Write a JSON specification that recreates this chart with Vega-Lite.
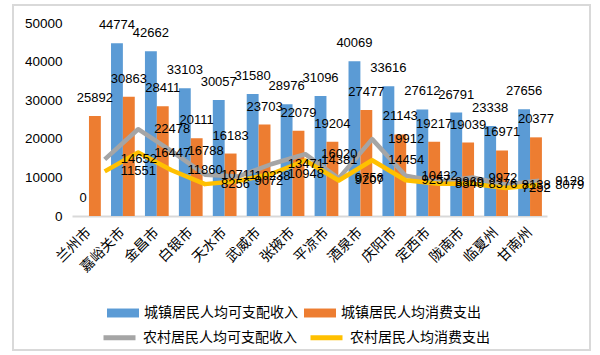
{
  "$schema": "https://vega.github.io/schema/vega-lite/v6.json",
  "autosize": "none",
  "width": 577,
  "height": 345,
  "padding": {"left": 13, "top": 5, "right": 10, "bottom": 5},
  "background": "white",
  "view": {"stroke": "#D9D9D9", "strokeWidth": 2},
  "config": {
    "font": "Liberation Sans",
    "axis": {"labelColor": "#000000", "labelFont": "Liberation Sans"},
    "legend": {"labelColor": "#000000"}
  },
  "datasets": {
    "bars": [
      {"city": "兰州市", "series": "城镇居民人均可支配收入", "value": 0},
      {"city": "兰州市", "series": "城镇居民人均消费支出", "value": 25892},
      {"city": "嘉峪关市", "series": "城镇居民人均可支配收入", "value": 44774},
      {"city": "嘉峪关市", "series": "城镇居民人均消费支出", "value": 30863},
      {"city": "金昌市", "series": "城镇居民人均可支配收入", "value": 42662},
      {"city": "金昌市", "series": "城镇居民人均消费支出", "value": 28411},
      {"city": "白银市", "series": "城镇居民人均可支配收入", "value": 33103},
      {"city": "白银市", "series": "城镇居民人均消费支出", "value": 20111},
      {"city": "天水市", "series": "城镇居民人均可支配收入", "value": 30057},
      {"city": "天水市", "series": "城镇居民人均消费支出", "value": 16183},
      {"city": "武威市", "series": "城镇居民人均可支配收入", "value": 31580},
      {"city": "武威市", "series": "城镇居民人均消费支出", "value": 23703},
      {"city": "张掖市", "series": "城镇居民人均可支配收入", "value": 28976},
      {"city": "张掖市", "series": "城镇居民人均消费支出", "value": 22079},
      {"city": "平凉市", "series": "城镇居民人均可支配收入", "value": 31096},
      {"city": "平凉市", "series": "城镇居民人均消费支出", "value": 19204},
      {"city": "酒泉市", "series": "城镇居民人均可支配收入", "value": 40069},
      {"city": "酒泉市", "series": "城镇居民人均消费支出", "value": 27477},
      {"city": "庆阳市", "series": "城镇居民人均可支配收入", "value": 33616},
      {"city": "庆阳市", "series": "城镇居民人均消费支出", "value": 21143},
      {"city": "定西市", "series": "城镇居民人均可支配收入", "value": 27612},
      {"city": "定西市", "series": "城镇居民人均消费支出", "value": 19217},
      {"city": "陇南市", "series": "城镇居民人均可支配收入", "value": 26791},
      {"city": "陇南市", "series": "城镇居民人均消费支出", "value": 19039},
      {"city": "临夏州", "series": "城镇居民人均可支配收入", "value": 23338},
      {"city": "临夏州", "series": "城镇居民人均消费支出", "value": 16971},
      {"city": "甘南州", "series": "城镇居民人均可支配收入", "value": 27656},
      {"city": "甘南州", "series": "城镇居民人均消费支出", "value": 20377}
    ],
    "lines": [
      {"city": "兰州市", "series": "农村居民人均可支配收入", "value": 14652},
      {"city": "兰州市", "series": "农村居民人均消费支出", "value": 11551},
      {"city": "嘉峪关市", "series": "农村居民人均可支配收入", "value": 22478},
      {"city": "嘉峪关市", "series": "农村居民人均消费支出", "value": 16447},
      {"city": "金昌市", "series": "农村居民人均可支配收入", "value": 16788},
      {"city": "金昌市", "series": "农村居民人均消费支出", "value": 11860},
      {"city": "白银市", "series": "农村居民人均可支配收入", "value": 10711},
      {"city": "白银市", "series": "农村居民人均消费支出", "value": 8256},
      {"city": "天水市", "series": "农村居民人均可支配收入", "value": 10238},
      {"city": "天水市", "series": "农村居民人均消费支出", "value": 9072},
      {"city": "武威市", "series": "农村居民人均可支配收入", "value": 13471},
      {"city": "武威市", "series": "农村居民人均消费支出", "value": 10948},
      {"city": "张掖市", "series": "农村居民人均可支配收入", "value": 16020},
      {"city": "张掖市", "series": "农村居民人均消费支出", "value": 14381},
      {"city": "平凉市", "series": "农村居民人均可支配收入", "value": 9756},
      {"city": "平凉市", "series": "农村居民人均消费支出", "value": 9207},
      {"city": "酒泉市", "series": "农村居民人均可支配收入", "value": 19912},
      {"city": "酒泉市", "series": "农村居民人均消费支出", "value": 14454},
      {"city": "庆阳市", "series": "农村居民人均可支配收入", "value": 10432},
      {"city": "庆阳市", "series": "农村居民人均消费支出", "value": 9257},
      {"city": "定西市", "series": "农村居民人均可支配收入", "value": 8869},
      {"city": "定西市", "series": "农村居民人均消费支出", "value": 8340},
      {"city": "陇南市", "series": "农村居民人均可支配收入", "value": 9972},
      {"city": "陇南市", "series": "农村居民人均消费支出", "value": 8376},
      {"city": "临夏州", "series": "农村居民人均可支配收入", "value": 8138},
      {"city": "临夏州", "series": "农村居民人均消费支出", "value": 7252},
      {"city": "甘南州", "series": "农村居民人均可支配收入", "value": 9128},
      {"city": "甘南州", "series": "农村居民人均消费支出", "value": 8079}
    ]
  },
  "layer": [
    {
      "data": {"name": "bars"},
      "encoding": {
        "x": {
          "field": "city", "type": "nominal", "sort": null,
          "scale": {"range": [59, 534], "paddingInner": 0.3, "paddingOuter": 0.15},
          "axis": {
            "title": null, "orient": "bottom", "offset": -134,
            "domainColor": "#D9D9D9", "domainWidth": 2, "ticks": false,
            "labelAngle": -45, "labelAlign": "right", "labelBaseline": "middle",
            "labelPadding": 14, "labelFont": "Noto Sans CJK SC", "labelFontSize": 14
          }
        },
        "xOffset": {"field": "series", "type": "nominal", "sort": ["城镇居民人均可支配收入", "城镇居民人均消费支出"]},
        "y": {
          "field": "value", "type": "quantitative",
          "scale": {"domain": [0, 50000], "range": [211, 18], "nice": false},
          "axis": {
            "title": null, "orient": "left", "offset": -59, "domain": false, "ticks": false, "grid": false,
            "values": [0, 5000, 10000, 15000, 20000, 25000, 30000, 35000, 40000, 45000, 50000],
            "format": "d", "labelPadding": 10, "labelFontSize": 13.5
          }
        }
      },
      "layer": [
        {
          "mark": {"type": "bar"},
          "encoding": {
            "fill": {
              "field": "series", "type": "nominal",
              "sort": ["城镇居民人均可支配收入", "城镇居民人均消费支出"],
              "scale": {"domain": ["城镇居民人均可支配收入", "城镇居民人均消费支出"], "range": ["#5B9BD5", "#ED7D31"]},
              "legend": {
                "title": null, "orient": "none", "direction": "horizontal", "columns": 2,
                "legendX": 94, "legendY": 292,
                "symbolType": "M-1,-0.28H1V0.28H-1Z", "symbolSize": 1024, "symbolStrokeWidth": 0,
                "labelFont": "Noto Sans CJK SC", "labelFontSize": 14, "labelOffset": 5,
                "columnPadding": 6, "labelLimit": 300
              }
            }
          }
        },
        {
          "mark": {"type": "text", "baseline": "bottom", "dy": -11, "fontSize": 13, "color": "#000000"},
          "encoding": {"text": {"field": "value", "type": "quantitative", "format": "d"}}
        }
      ]
    },
    {
      "data": {"name": "lines"},
      "encoding": {
        "x": {
          "field": "city", "type": "nominal", "sort": null,
          "scale": {"type": "point", "range": [75, 543]},
          "axis": null
        },
        "y": {"field": "value", "type": "quantitative"}
      },
      "layer": [
        {
          "mark": {"type": "line", "strokeWidth": 4.5, "strokeJoin": "round"},
          "encoding": {
            "stroke": {
              "field": "series", "type": "nominal",
              "scale": {"domain": ["农村居民人均可支配收入", "农村居民人均消费支出"], "range": ["#A5A5A5", "#FFC000"]},
              "legend": {
                "title": null, "orient": "none", "direction": "horizontal", "columns": 2,
                "legendX": 88, "legendY": 314,
                "symbolType": "M-1,0H1", "symbolSize": 1024, "symbolStrokeWidth": 5,
                "labelFont": "Noto Sans CJK SC", "labelFontSize": 14, "labelOffset": 5,
                "columnPadding": 3, "labelLimit": 300
              }
            }
          }
        },
        {
          "mark": {"type": "text", "align": "left", "baseline": "middle", "dx": 16, "fontSize": 13, "color": "#000000"},
          "encoding": {"text": {"field": "value", "type": "quantitative", "format": "d"}}
        }
      ]
    }
  ],
  "resolve": {"scale": {"x": "independent"}}
}
